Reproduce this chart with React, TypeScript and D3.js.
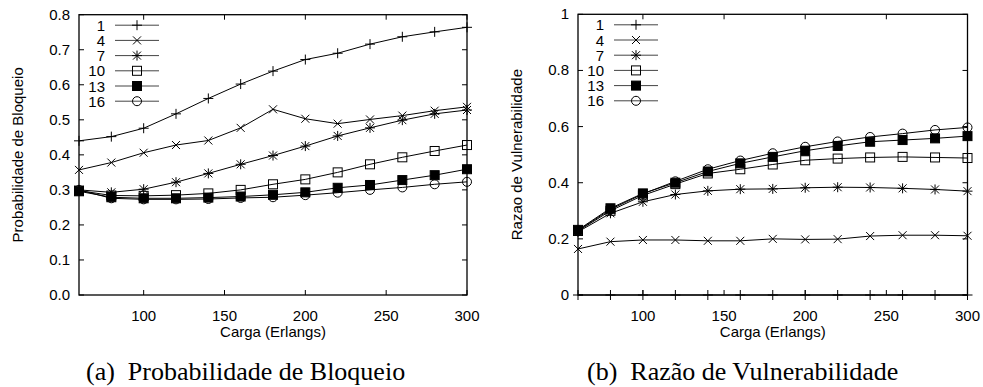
import React, { useEffect } from "react";
import * as d3 from "d3";

// carga (Erlangs)
const carga = [60, 80, 100, 120, 140, 160, 180, 200, 220, 240, 260, 280, 300];
const seriesNames = ["1", "4", "7", "10", "13", "16"];
const markers = ["plus", "cross", "star", "square", "fsquare", "circle"];

// (a) probabilidade de bloqueio
const bloq1 = [0.44, 0.452, 0.476, 0.517, 0.561, 0.602, 0.639, 0.672, 0.69, 0.716, 0.737, 0.751, 0.764];
const bloq4 = [0.357, 0.378, 0.406, 0.428, 0.441, 0.477, 0.53, 0.503, 0.489, 0.501, 0.512, 0.526, 0.537];
const bloq7 = [0.3, 0.293, 0.302, 0.322, 0.347, 0.373, 0.398, 0.425, 0.454, 0.477, 0.499, 0.517, 0.528];
const bloq10 = [0.298, 0.284, 0.283, 0.285, 0.29, 0.3, 0.316, 0.33, 0.35, 0.373, 0.393, 0.411, 0.428];
const bloq13 = [0.296, 0.279, 0.276, 0.276, 0.278, 0.281, 0.286, 0.293, 0.306, 0.314, 0.328, 0.342, 0.359];
const bloq16 = [0.3, 0.276, 0.273, 0.273, 0.274, 0.277, 0.279, 0.285, 0.292, 0.3, 0.307, 0.316, 0.323];

// (b) razao de vulnerabilidade
const vul1 = [0, 0, 0, 0, 0, 0, 0, 0, 0, 0, 0, 0, 0];
const vul4 = [0.164, 0.19, 0.196, 0.196, 0.193, 0.193, 0.2, 0.198, 0.199, 0.21, 0.213, 0.213, 0.211];
const vul7 = [0.225, 0.291, 0.332, 0.358, 0.371, 0.377, 0.378, 0.382, 0.384, 0.383, 0.38, 0.376, 0.37];
const vul10 = [0.228, 0.3, 0.355, 0.395, 0.433, 0.448, 0.465, 0.48, 0.486, 0.49, 0.492, 0.49, 0.488];
const vul13 = [0.232, 0.309, 0.362, 0.4, 0.44, 0.469, 0.492, 0.514, 0.531, 0.546, 0.552, 0.558, 0.566];
const vul16 = [0.23, 0.305, 0.36, 0.405, 0.448, 0.479, 0.505, 0.528, 0.547, 0.563, 0.575, 0.588, 0.597];

const xTicks = [100, 150, 200, 250, 300];
const bloqTicks = [0, 0.1, 0.2, 0.3, 0.4, 0.5, 0.6, 0.7, 0.8];
const vulTicks = [0, 0.2, 0.4, 0.6, 0.8, 1];

const sans = "'Liberation Sans', Arial, sans-serif";
const serif = "'Liberation Serif', 'Times New Roman', serif";
const fs = 15;

function Marker({ kind, x, y }) {
  const t = `translate(${x},${y})`;
  if (kind === "plus") return <path transform={t} d="M-5,0H5M0,-5V5" stroke="#000" fill="none" />;
  if (kind === "cross") return <path transform={t} d="M-4,-4L4,4M-4,4L4,-4" stroke="#000" fill="none" />;
  if (kind === "star")
    return <path transform={t} d="M-5,0H5M0,-5V5M-4,-4L4,4M-4,4L4,-4" stroke="#000" fill="none" />;
  if (kind === "square") return <rect transform={t} x={-4.5} y={-4.5} width={9} height={9} stroke="#000" fill="none" />;
  if (kind === "fsquare") return <rect transform={t} x={-4.5} y={-4.5} width={9} height={9} stroke="#000" fill="#000" />;
  return <circle transform={t} r={4.5} stroke="#000" fill="none" />;
}

function Chart({ left, right, top, bottom, yMax, yTicks, yFmt, series, yLabel, yLabelX, caption, captionLetter, captionX }) {
  const x = d3.scaleLinear().domain([60, 300]).range([left, right]);
  const y = d3.scaleLinear().domain([0, yMax]).range([bottom, top]);
  const line = d3
    .line<number>()
    .x((d, i) => x(carga[i]))
    .y(d => y(d));
  const legX = left + 36;
  const tl = 5;
  return (
    <g>
      {/* ticks */}
      {xTicks.map(t => (
        <g key={"x" + t}>
          <line x1={x(t)} x2={x(t)} y1={bottom} y2={bottom - tl} stroke="#000" />
          <line x1={x(t)} x2={x(t)} y1={top} y2={top + tl} stroke="#000" />
          <text x={x(t)} y={bottom + 26} textAnchor="middle" fontFamily={sans} fontSize={fs}>
            {t}
          </text>
        </g>
      ))}
      {yTicks.map(t => (
        <g key={"y" + t}>
          <line x1={left} x2={left + tl} y1={y(t)} y2={y(t)} stroke="#000" />
          <line x1={right} x2={right - tl} y1={y(t)} y2={y(t)} stroke="#000" />
          <text x={left - 9} y={y(t) + 5} textAnchor="end" fontFamily={sans} fontSize={fs}>
            {yFmt(t)}
          </text>
        </g>
      ))}
      <rect x={left} y={top} width={right - left} height={bottom - top} fill="none" stroke="#000" strokeWidth={1.3} />
      {/* series */}
      {series.map((s, k) => (
        <g key={"s" + k}>
          <path d={line(s)} fill="none" stroke="#000" strokeWidth={1} />
          {s.map((v, i) => (
            <Marker key={i} kind={markers[k]} x={x(carga[i])} y={y(v)} />
          ))}
        </g>
      ))}
      {/* legend */}
      {seriesNames.map((n, k) => {
        const ly = top + 10.5 + k * 15.2;
        return (
          <g key={"l" + n}>
            <text x={legX - 10} y={ly + 5.5} textAnchor="end" fontFamily={sans} fontSize={fs}>
              {n}
            </text>
            <line x1={legX} x2={legX + 44} y1={ly} y2={ly} stroke="#444" />
            <Marker kind={markers[k]} x={legX + 22} y={ly} />
          </g>
        );
      })}
      <text x={(left + right) / 2} y={337} textAnchor="middle" fontFamily={sans} fontSize={fs}>
        Carga (Erlangs)
      </text>
      <text
        transform={`translate(${yLabelX},${(top + bottom) / 2}) rotate(-90)`}
        textAnchor="middle"
        fontFamily={sans}
        fontSize={fs}
      >
        {yLabel}
      </text>
      <text x={captionX} y={380} fontFamily={serif} fontSize={26}>
        {captionLetter}
        <tspan dx={13}>{caption}</tspan>
      </text>
    </g>
  );
}

export default function App() {
  useEffect(() => {
    document.body.style.margin = "0";
  }, []);
  return (
    <svg width={983} height={387} style={{ display: "block", background: "#fff" }}>
      <Chart
        left={79}
        right={467}
        top={14.7}
        bottom={295}
        yMax={0.8}
        yTicks={bloqTicks}
        yFmt={d3.format(".1f")}
        series={[bloq1, bloq4, bloq7, bloq10, bloq13, bloq16]}
        yLabel="Probabilidade de Bloqueio"
        yLabelX={23}
        caption="Probabilidade de Bloqueio"
        captionLetter="(a)"
        captionX={86}
      />
      <Chart
        left={578}
        right={967.5}
        top={14.3}
        bottom={295}
        yMax={1}
        yTicks={vulTicks}
        yFmt={t => (t === 0 || t === 1 ? String(t) : d3.format(".1f")(t))}
        series={[vul1, vul4, vul7, vul10, vul13, vul16]}
        yLabel="Razao de Vulnerabilidade"
        yLabelX={522}
        caption="Razão de Vulnerabilidade"
        captionLetter="(b)"
        captionX={587}
      />
    </svg>
  );
}
